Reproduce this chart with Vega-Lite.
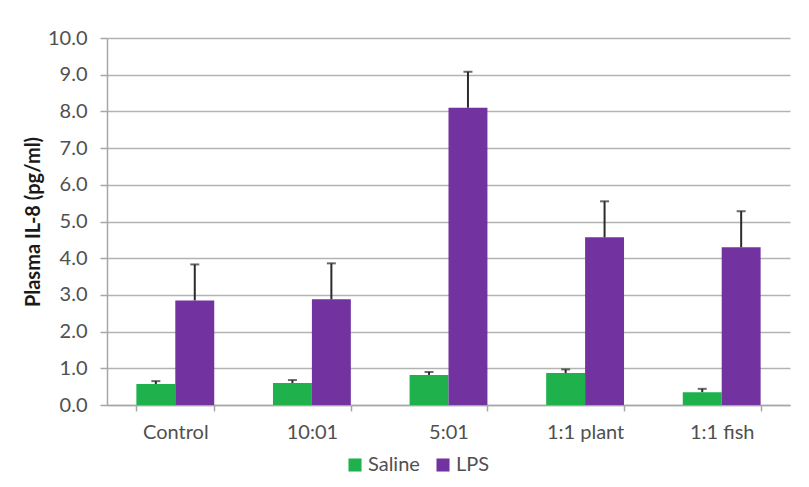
{
  "$schema": "https://vega.github.io/schema/vega-lite/v6.json",
  "width": 683,
  "height": 367,
  "autosize": {"type": "none"},
  "padding": {"left": 107, "top": 38, "right": 19, "bottom": 82},
  "background": "white",
  "config": {
    "font": "Lato",
    "view": {"stroke": null},
    "axis": {
      "labelFont": "Lato",
      "titleFont": "Lato",
      "labelFontSize": 20,
      "labelColor": "#505050",
      "tickColor": "#a6a6a6",
      "tickWidth": 1.5,
      "domainColor": "#a6a6a6",
      "domainWidth": 1.5,
      "gridColor": "#b3b3b3",
      "gridWidth": 1.5
    },
    "axisX": {
      "labelAngle": 0,
      "labelPadding": 11,
      "tickSize": 6,
      "tickBand": "extent",
      "grid": false
    },
    "axisY": {
      "titleFontSize": 20,
      "titleFontWeight": "bold",
      "titleColor": "#1a1a1a",
      "titlePadding": 4,
      "labelPadding": 13,
      "tickSize": 7,
      "grid": true
    },
    "legend": {
      "labelFont": "Lato",
      "labelFontSize": 20,
      "labelColor": "#505050"
    }
  },
  "data": {
    "values": [
      {"group": "Control", "series": "Saline", "value": 0.57, "err": 0.65},
      {"group": "Control", "series": "LPS", "value": 2.85, "err": 3.83},
      {"group": "10:01", "series": "Saline", "value": 0.6, "err": 0.68},
      {"group": "10:01", "series": "LPS", "value": 2.88, "err": 3.86},
      {"group": "5:01", "series": "Saline", "value": 0.82, "err": 0.9},
      {"group": "5:01", "series": "LPS", "value": 8.1, "err": 9.08},
      {"group": "1:1 plant", "series": "Saline", "value": 0.87, "err": 0.97},
      {"group": "1:1 plant", "series": "LPS", "value": 4.57, "err": 5.55},
      {"group": "1:1 fish", "series": "Saline", "value": 0.35, "err": 0.44},
      {"group": "1:1 fish", "series": "LPS", "value": 4.3, "err": 5.28}
    ]
  },
  "encoding": {
    "x": {
      "field": "group",
      "type": "nominal",
      "sort": ["Control", "10:01", "5:01", "1:1 plant", "1:1 fish"],
      "scale": {"paddingInner": 0.43, "paddingOuter": 0.215},
      "axis": {"title": null}
    },
    "xOffset": {
      "field": "series",
      "type": "nominal",
      "sort": ["Saline", "LPS"],
      "scale": {"paddingInner": 0, "paddingOuter": 0}
    }
  },
  "layer": [
    {
      "mark": {"type": "bar"},
      "encoding": {
        "y": {
          "field": "value",
          "type": "quantitative",
          "scale": {"domain": [0, 10], "nice": false},
          "axis": {
            "title": "Plasma IL-8 (pg/ml)",
            "values": [0, 1, 2, 3, 4, 5, 6, 7, 8, 9, 10],
            "format": ".1f",
            "labelOverlap": false
          }
        },
        "color": {
          "field": "series",
          "type": "nominal",
          "sort": ["Saline", "LPS"],
          "scale": {"domain": ["Saline", "LPS"], "range": ["#1fb24c", "#7232a0"]},
          "legend": {
            "title": null,
            "orient": "none",
            "direction": "horizontal",
            "legendX": 238,
            "legendY": 417,
            "symbolType": "square",
            "symbolSize": 170,
            "symbolStrokeWidth": 0,
            "symbolOpacity": 1,
            "labelOffset": 3,
            "columnPadding": 13
          }
        }
      }
    },
    {
      "mark": {"type": "rule", "color": "#2b2b2b", "strokeWidth": 2},
      "encoding": {
        "y": {
          "field": "value",
          "type": "quantitative",
          "axis": {
            "title": "Plasma IL-8 (pg/ml)",
            "values": [0, 1, 2, 3, 4, 5, 6, 7, 8, 9, 10],
            "format": ".1f",
            "labelOverlap": false
          }
        },
        "y2": {"field": "err"}
      }
    },
    {
      "mark": {"type": "tick", "color": "#2b2b2b", "thickness": 2, "size": 9},
      "encoding": {
        "y": {
          "field": "err",
          "type": "quantitative",
          "axis": {
            "title": "Plasma IL-8 (pg/ml)",
            "values": [0, 1, 2, 3, 4, 5, 6, 7, 8, 9, 10],
            "format": ".1f",
            "labelOverlap": false
          }
        }
      }
    }
  ]
}
